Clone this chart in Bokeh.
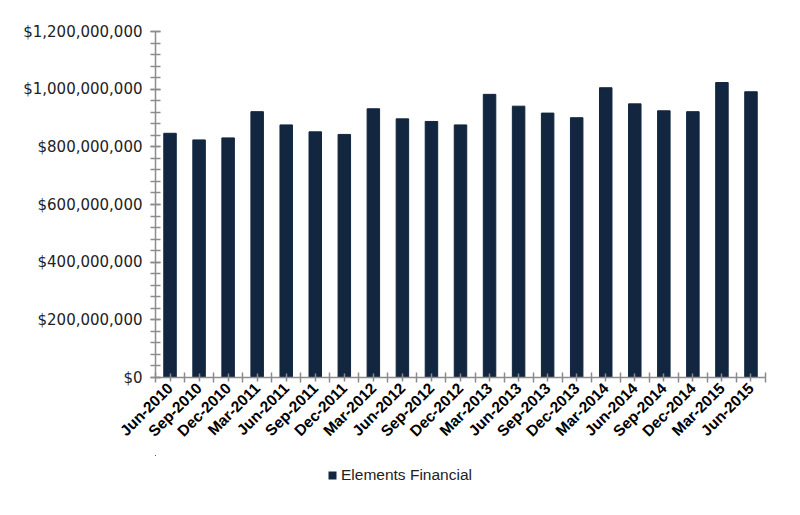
from math import pi
from bokeh.plotting import figure
from bokeh.layouts import column
from bokeh.models import (ColumnDataSource, FixedTicker, NumeralTickFormatter,
                          Legend, LegendItem, Range1d)
from bokeh.embed import file_html
from bokeh.resources import INLINE

categories = ["Jun-2010", "Sep-2010", "Dec-2010", "Mar-2011", "Jun-2011", "Sep-2011",
              "Dec-2011", "Mar-2012", "Jun-2012", "Sep-2012", "Dec-2012", "Mar-2013",
              "Jun-2013", "Sep-2013", "Dec-2013", "Mar-2014", "Jun-2014", "Sep-2014",
              "Dec-2014", "Mar-2015", "Jun-2015"]
values = [847e6, 824e6, 831e6, 922e6, 876e6, 852e6, 843e6, 932e6, 897e6, 888e6,
          876e6, 982e6, 941e6, 917e6, 901e6, 1005e6, 949e6, 925e6, 922e6, 1023e6, 991e6]
series_name = "Elements Financial"
y_ticks = [0, 200e6, 400e6, 600e6, 800e6, 1000e6, 1200e6]

n = len(categories)
centers = [i + 0.5 for i in range(n)]
bounds = [float(i) for i in range(n + 1)]

src = ColumnDataSource(dict(x=centers, top=values, cat=categories))

p = figure(width=784, height=455, output_backend="svg", toolbar_location=None,
           x_range=Range1d(0, n), y_range=Range1d(0, 1.2e9),
           min_border_left=155, min_border_right=19, min_border_top=31,
           min_border_bottom=78)
p.outline_line_color = None
p.xgrid.visible = False
p.ygrid.visible = False

bar_color = "#12263f"
p.vbar(x="x", top="top", width=0.43, source=src, fill_color=bar_color,
       line_color=bar_color)

axis_color = "#8c8c8c"
# x axis
p.xaxis.ticker = FixedTicker(ticks=centers, minor_ticks=bounds)
p.xaxis.major_label_overrides = {c: lab for c, lab in zip(centers, categories)}
p.xaxis.major_label_orientation = pi / 4
p.xaxis.major_label_text_font = "Liberation Sans"
p.xaxis.major_label_text_font_style = "bold"
p.xaxis.major_label_text_font_size = "15.5px"
p.xaxis.major_label_text_color = "#000000"
p.xaxis.major_label_standoff = 3
p.xaxis.axis_line_color = axis_color
p.xaxis.axis_line_width = 1.5
p.xaxis.major_tick_line_color = axis_color
p.xaxis.minor_tick_line_color = axis_color
p.xaxis.major_tick_in = 4
p.xaxis.major_tick_out = 4
p.xaxis.minor_tick_in = 5
p.xaxis.minor_tick_out = 5
p.xaxis.major_tick_line_width = 1.5
p.xaxis.minor_tick_line_width = 1.5

# y axis
p.yaxis.ticker = FixedTicker(ticks=y_ticks,
                             minor_ticks=[i * 40e6 for i in range(31)])
p.yaxis.formatter = NumeralTickFormatter(format="$0,0")
p.yaxis.major_label_text_font = "DejaVu Sans"
p.yaxis.major_label_text_font_size = "15px"
p.yaxis.major_label_text_color = "#222222"
p.yaxis.major_label_standoff = 8
p.yaxis.axis_line_color = axis_color
p.yaxis.axis_line_width = 1.5
p.yaxis.major_tick_line_color = axis_color
p.yaxis.minor_tick_line_color = axis_color
p.yaxis.major_tick_in = 5
p.yaxis.major_tick_out = 5
p.yaxis.minor_tick_in = 5
p.yaxis.minor_tick_out = 5
p.yaxis.major_tick_line_width = 1.5
p.yaxis.minor_tick_line_width = 1.5

# legend strip below the chart (same bars, kept out of its view)
p2 = figure(width=784, height=44, output_backend="svg", toolbar_location=None,
            x_range=Range1d(1000, 1001), y_range=Range1d(-3e9, -2e9),
            x_axis_type=None, y_axis_type=None,
            min_border_left=0, min_border_right=0, min_border_top=0,
            min_border_bottom=0)
p2.outline_line_color = None
p2.grid.visible = False
r2 = p2.vbar(x="x", top="top", width=0.43, source=src, fill_color=bar_color,
             line_color=None)
legend = Legend(items=[LegendItem(label=series_name, renderers=[r2])],
                location=(172, 15), orientation="horizontal",
                label_text_font="Liberation Sans", label_text_font_size="15.5px",
                label_text_color="#222222", glyph_width=10, glyph_height=10,
                label_standoff=4, border_line_color=None, padding=4, margin=0,
                background_fill_alpha=0)
p2.add_layout(legend, "center")

layout = column(p, p2, spacing=0)
open("out.html", "w").write(file_html(layout, INLINE))
